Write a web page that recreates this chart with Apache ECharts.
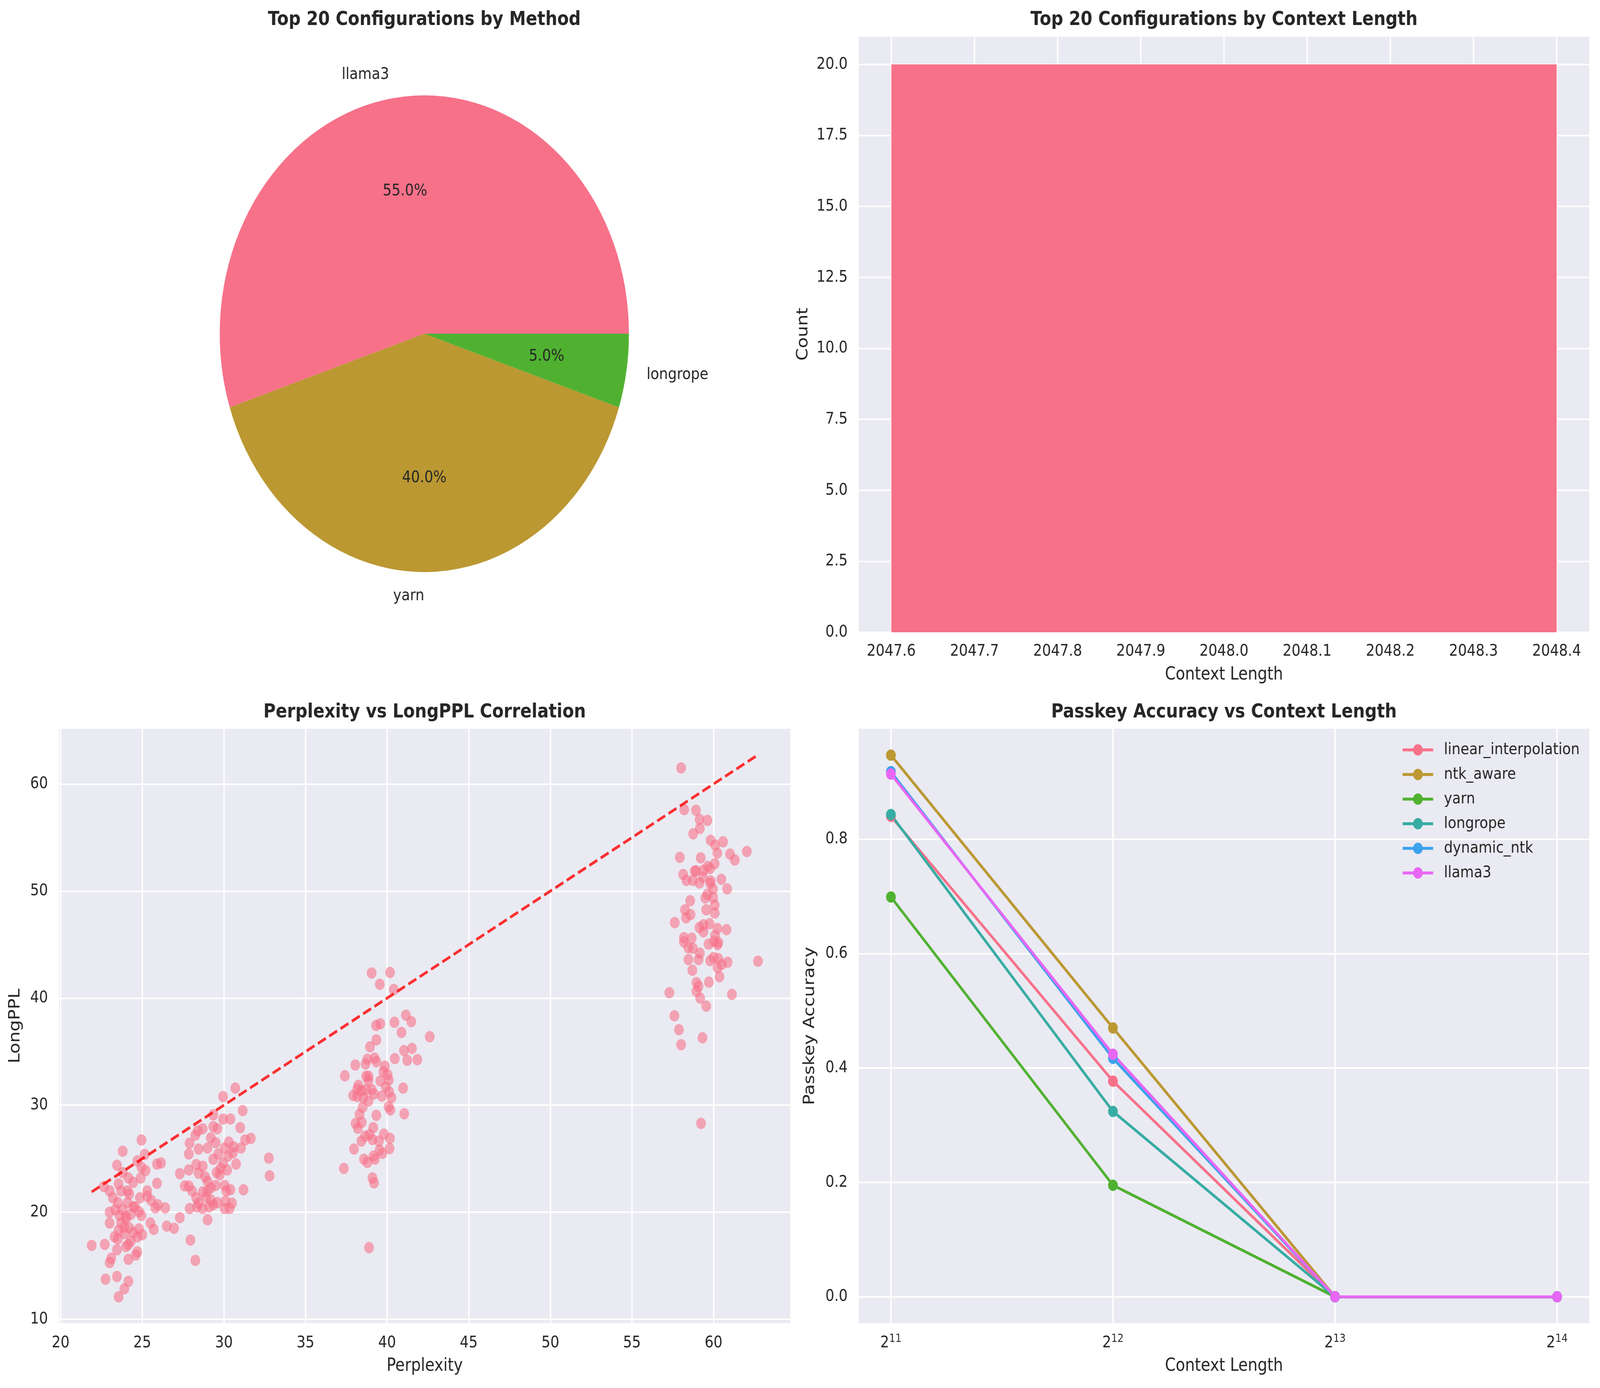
<!DOCTYPE html>
<html><head><meta charset="utf-8">
<script src="https://cdn.jsdelivr.net/npm/echarts@6/dist/echarts.min.js"></script>
<style>html,body{margin:0;padding:0;background:#fff;overflow:hidden}#wrap{position:relative;overflow:hidden}#c{width:4770px;height:3552px;position:absolute;left:0;top:0}</style>
</head><body><div id="wrap"><div id="c"></div></div>
<script>
// ---------------- data ----------------
const methodNames = ['llama3', 'yarn', 'longrope'];
const methodCounts = [11, 8, 1];

const contextBins = [2048];
const contextCounts = [20];

const perplexity = [
 21.9,22.7,22.75,22.65,23.0,23.2,23.0,23.0,23.1,23.0,23.45,23.55,23.9,24.15,24.15,23.45,23.5,23.55,23.45,23.8,
 23.55,23.8,24.15,24.45,23.7,24.1,23.5,23.35,23.8,24.1,24.45,24.0,23.7,24.2,23.9,24.45,24.8,24.15,24.7,24.6,
 24.7,24.95,24.7,25.15,24.95,25.2,24.9,24.85,25.3,25.3,25.55,24.95,25.0,25.5,25.7,25.9,25.9,26.15,25.8,25.95,
 26.4,26.5,26.95,24.8,24.55,24.0,24.3,23.9,24.2,23.6,24.0,24.3,23.3,
 27.3,27.3,27.6,27.85,28.05,27.85,27.85,27.9,28.25,28.4,28.7,27.95,28.25,27.9,28.35,28.45,28.7,28.3,28.45,28.7,
 28.3,28.45,29.0,28.85,29.0,29.0,28.7,29.0,29.2,29.1,29.35,29.6,29.35,29.35,29.6,29.5,29.2,29.35,29.65,29.55,
 29.75,29.5,29.95,29.95,29.95,30.4,30.7,31.15,31.0,31.3,31.65,31.05,30.6,30.3,30.05,30.55,30.25,30.75,30.2,30.05,
 30.4,30.15,31.2,30.1,30.5,30.05,30.35,32.75,32.8,29.2,28.9,29.8,
 39.05,40.18,39.55,40.41,41.15,41.48,40.45,39.58,39.32,40.88,42.61,39.34,38.95,41.03,41.52,40.47,41.23,41.85,38.05,37.41,
 38.79,38.68,39.23,39.34,39.86,39.77,40.03,40.1,38.86,38.71,38.86,39.58,39.92,40.98,38.24,38.17,37.92,38.17,38.45,38.72,
 39.06,39.2,39.68,40.12,40.27,38.55,38.86,38.5,40.09,40.2,41.05,39.34,38.31,38.07,38.45,38.21,39.15,38.65,38.92,39.8,
 40.17,38.42,39.1,39.5,37.97,39.54,40.15,39.71,38.58,38.79,39.16,39.25,37.35,39.1,39.2,38.89,
 58.01,58.2,58.92,59.14,59.62,59.16,58.75,59.82,60.1,60.58,60.23,57.93,59.21,61.01,61.3,62.04,60.07,59.64,59.79,59.38,
 58.84,58.92,58.14,58.34,58.73,59.14,59.35,59.83,59.79,60.48,59.97,60.83,59.62,59.49,59.97,58.57,60.07,58.25,58.59,58.31,
 59.55,60.07,57.62,59.76,59.38,59.13,59.38,60.23,60.79,60.09,58.18,58.66,58.18,58.73,58.45,59.69,60.03,60.29,60.24,59.16,
 58.46,59.08,59.79,60.0,60.29,60.86,60.5,60.24,62.72,58.7,60.36,58.95,59.08,58.95,59.71,57.29,61.12,59.18,59.55,57.6,
 57.88,59.32,58.01,59.23
];
const longPPL = [
 16.9,17.0,13.75,22.4,22.0,21.35,20.0,19.0,15.7,15.3,14.0,12.1,12.85,13.55,15.6,16.5,17.5,18.3,24.4,25.7,
 22.65,23.7,23.2,22.8,22.0,22.0,20.9,20.25,20.25,20.9,20.5,19.4,19.0,18.55,18.0,18.1,18.45,17.0,17.7,16.0,
 16.3,26.75,24.8,25.4,24.2,23.9,23.2,21.35,22.0,21.5,21.1,19.7,17.9,19.0,18.4,22.7,24.5,24.6,20.4,20.7,
 20.4,18.7,18.5,20.05,20.5,19.6,19.8,18.6,21.7,19.7,16.8,17.3,17.7,
 19.5,23.6,22.45,22.45,22.0,23.95,25.45,26.45,27.2,27.6,27.8,17.4,15.5,20.35,20.5,20.85,20.35,21.35,23.65,24.3,
 24.45,25.9,26.0,23.3,22.9,22.0,21.9,19.3,21.15,20.5,20.7,20.9,29.1,28.0,27.8,26.5,26.95,24.95,25.45,23.7,
 23.5,22.5,24.6,30.8,28.7,28.7,31.6,29.5,27.9,26.75,26.9,26.0,26.1,26.55,26.0,25.55,25.25,24.5,23.95,22.5,
 22.1,22.0,22.1,21.05,20.85,20.35,20.35,25.05,23.4,22.3,21.4,24.1,
 42.35,42.4,41.3,40.8,38.4,37.8,37.75,37.6,37.45,36.8,36.4,36.1,35.45,35.1,35.3,34.35,34.2,34.25,33.75,32.75,
 34.3,33.85,34.4,34.05,33.65,33.15,32.85,32.35,32.7,32.7,32.3,32.25,31.7,31.6,31.85,31.5,30.9,30.8,31.35,31.45,
 31.45,31.05,30.85,31.25,30.7,30.7,30.4,29.8,29.85,29.55,29.2,29.05,29.15,28.3,28.4,27.85,27.9,27.1,27.25,27.3,
 26.9,26.65,26.8,26.65,25.9,25.8,25.95,25.5,24.95,24.65,25.25,24.95,24.1,23.2,22.75,16.7,
 61.5,57.6,57.55,56.7,56.6,55.85,55.35,54.75,54.3,54.6,53.55,53.15,53.1,53.45,52.9,53.7,52.55,52.3,52.1,51.95,
 51.85,51.9,51.55,51.0,51.0,50.75,51.3,50.95,50.7,51.1,50.2,50.2,49.7,49.35,49.4,49.1,48.7,48.25,47.8,47.5,
 48.25,47.95,47.05,46.95,46.85,46.6,46.2,46.5,46.4,45.85,45.65,45.6,45.25,44.65,44.7,45.05,45.3,45.2,45.0,44.2,
 43.6,43.6,43.5,43.8,43.7,43.35,43.15,42.85,43.45,42.6,42.0,41.45,41.1,40.65,41.5,40.5,40.35,40.0,39.25,38.35,
 37.05,36.3,35.65,28.3
];

const passkeyContext = [2048, 4096, 8192, 16384];
const passkeyMethods = ['linear_interpolation', 'ntk_aware', 'yarn', 'longrope', 'dynamic_ntk', 'llama3'];
const accLinearInterpolation = [0.840, 0.377, 0.0, 0.0];
const accNtkAware = [0.947, 0.470, 0.0, 0.0];
const accYarn = [0.699, 0.195, 0.0, 0.0];
const accLongrope = [0.843, 0.324, 0.0, 0.0];
const accDynamicNtk = [0.918, 0.417, 0.0, 0.0];
const accLlama3 = [0.914, 0.424, 0.0, 0.0];

// ---------------- styles ----------------
const palette = ['#f77189', '#bb9832', '#50b131', '#36ada4', '#3ba3ec', '#e866f4'];
const FONT = 'DejaVu Sans';
const TXT = '#262626';
const BG = '#EAEAF2';
const TICK_FS = 41.7, LABEL_FS = 45.8, TITLE_FS = 50;
const GRID_W = 4.2;
const LINE_W = 7.3;
const BAR_SPAN = 0.8;

const grids = [
  {left: 2558, top: 92, width: 2182, height: 1526},
  {left: 174, top: 1863, width: 2184, height: 1525},
  {left: 2558, top: 1863, width: 2182, height: 1525}
];
const barX = [2047.56, 2048.44];

function onStep(v, step) { return Math.abs(v / step - Math.round(v / step)) < 1e-6; }

function baseAxis(extra) {
  return Object.assign({
    axisLine: {show: false},
    axisTick: {show: false},
    splitLine: {show: true, lineStyle: {color: '#ffffff', width: GRID_W}},
    nameLocation: 'middle',
    nameTextStyle: {fontFamily: FONT, fontSize: LABEL_FS, color: TXT},
  }, extra);
}
function lab(margin, fmt, rich) {
  const o = {fontFamily: FONT, fontSize: TICK_FS, color: TXT, margin: margin, formatter: fmt, showMinLabel: true, showMaxLabel: true};
  if (rich) o.rich = rich;
  return o;
}

const titles = [
  ['Top 20 Configurations by Method', 1265, 26],
  ['Top 20 Configurations by Context Length', 3649, 26],
  ['Perplexity vs LongPPL Correlation', 1266, 1798],
  ['Passkey Accuracy vs Context Length', 3649, 1798]
].map(t => ({text: t[0], left: t[1], top: t[2], textAlign: 'center', padding: 0,
  textStyle: {fontFamily: FONT, fontSize: TITLE_FS, fontWeight: 'bold', color: TXT}}));

const pmin = Math.min(...perplexity), pmax = Math.max(...perplexity);
const accSeries = [accLinearInterpolation, accNtkAware, accYarn, accLongrope, accDynamicNtk, accLlama3];

const option = {
  backgroundColor: '#ffffff',
  animation: false,
  title: titles,
  grid: grids.map(g => Object.assign({show: true, backgroundColor: BG, borderWidth: 0, containLabel: false}, g)),
  legend: {
    data: passkeyMethods, orient: 'vertical', left: 4178, top: 1898, padding: 0,
    itemWidth: 91, itemHeight: 36, itemGap: 21,
    lineStyle: {width: LINE_W},
    formatter: n => '{t|' + n + '}',
    textStyle: {fontFamily: FONT, fontSize: TICK_FS, color: TXT, lineHeight: 42,
      rich: {t: {fontFamily: FONT, fontSize: TICK_FS, color: TXT, lineHeight: 42, padding: [0, 0, 0, 27]}}}
  },
  xAxis: [
    baseAxis({type: 'value', gridIndex: 0, min: barX[0], max: barX[1], splitNumber: 9,
      name: 'Context Length', nameGap: 86,
      axisLabel: lab(28, v => onStep(v, 0.1) ? v.toFixed(1) : '')}),
    baseAxis({type: 'value', gridIndex: 1, min: 19.86, max: 64.74, splitNumber: 9,
      name: 'Perplexity', nameGap: 85,
      axisLabel: lab(28, v => onStep(v, 5) ? String(Math.round(v)) : '')}),
    baseAxis({type: 'log', logBase: 2, gridIndex: 2, min: Math.pow(2, 10.852), max: Math.pow(2, 14.148),
      name: 'Context Length', nameGap: 85,
      axisLabel: lab(24, v => { const e = Math.log2(v); return Math.abs(e - Math.round(e)) < 1e-4 ? '{b|2}{s|' + Math.round(e) + '}' : ''; },
        {b: {fontFamily: FONT, fontSize: TICK_FS, color: TXT, lineHeight: 46, verticalAlign: 'bottom'},
         s: {fontFamily: FONT, fontSize: 29, color: TXT, lineHeight: 46, verticalAlign: 'top'}})})
  ],
  yAxis: [
    baseAxis({type: 'value', gridIndex: 0, min: 0, max: 21, interval: 2.5,
      name: 'Count', nameGap: 140,
      axisLabel: lab(31, v => (onStep(v, 2.5) && v <= 20) ? v.toFixed(1) : '')}),
    baseAxis({type: 'value', gridIndex: 1, min: 9.57, max: 65.23, splitNumber: 5,
      name: 'LongPPL', nameGap: 105,
      axisLabel: lab(31, v => onStep(v, 10) ? String(Math.round(v)) : '')}),
    baseAxis({type: 'value', gridIndex: 2, min: -0.0474, max: 0.9944, splitNumber: 5,
      name: 'Passkey Accuracy', nameGap: 120,
      axisLabel: lab(31, v => onStep(v, 0.2) ? v.toFixed(1) : '')})
  ],
  series: [
    {
      type: 'pie', name: 'method', center: [1265, 854], radius: [0, 610],
      startAngle: 0, clockwise: false, avoidLabelOverlap: false, silent: true,
      data: methodNames.map((n, i) => ({name: n, value: methodCounts[i], itemStyle: {color: palette[i]}})),
      label: {show: true, position: 'outside', formatter: '{b}', fontFamily: FONT, fontSize: TICK_FS, color: TXT, distanceToLabelLine: 0},
      labelLine: {show: false, length: 61, length2: 0},
      emphasis: {disabled: true}
    },
    {
      type: 'pie', name: 'methodPct', center: [1265, 854], radius: [122, 610], z: 3,
      startAngle: 0, clockwise: false, avoidLabelOverlap: false, silent: true,
      data: methodNames.map((n, i) => ({name: n, value: methodCounts[i]})),
      itemStyle: {color: 'rgba(0,0,0,0)'},
      label: {show: true, position: 'inside', formatter: p => p.percent.toFixed(1) + '%', fontFamily: FONT, fontSize: TICK_FS, color: TXT},
      labelLine: {show: false},
      emphasis: {disabled: true}
    },
    {
      type: 'bar', name: 'count', xAxisIndex: 0, yAxisIndex: 0,
      data: contextBins.map((c, i) => [c, contextCounts[i]]),
      barWidth: grids[0].width * BAR_SPAN / (barX[1] - barX[0]),
      itemStyle: {color: palette[0]}
    },
    {
      type: 'scatter', name: 'ppl', xAxisIndex: 1, yAxisIndex: 1,
      data: perplexity.map((x, i) => [x, longPPL[i]]),
      symbolSize: 29, itemStyle: {color: palette[0], opacity: 0.6}
    },
    {
      type: 'line', name: 'diag', xAxisIndex: 1, yAxisIndex: 1,
      data: [[pmin, pmin], [pmax, pmax]], symbol: 'none',
      lineStyle: {color: '#ff0000', opacity: 0.8, width: LINE_W, type: [27, 11.7], cap: 'butt'}
    }
  ].concat(passkeyMethods.map((m, k) => ({
    type: 'line', name: m, xAxisIndex: 2, yAxisIndex: 2,
    data: passkeyContext.map((c, i) => [c, accSeries[k][i]]),
    symbol: 'circle', symbolSize: 29, showSymbol: true,
    lineStyle: {color: palette[k], width: LINE_W},
    itemStyle: {color: palette[k], borderWidth: 0}
  })))
};

// The drawing is laid out on a 4770x3552 board; fit it to the viewport the browser actually provides
// (the window can be narrower than requested), so the whole chart is always in the picture.
const wrap = document.getElementById('wrap');
const el = document.getElementById('c');
const vw = window.innerWidth || document.documentElement.clientWidth || 4770;
const vh = window.innerHeight || document.documentElement.clientHeight || 3552;
const SX = vw / 4770, SY = vh / 3552;
const dpr = window.devicePixelRatio || 1;
wrap.style.width = vw + 'px';
wrap.style.height = vh + 'px';
el.style.transformOrigin = '0 0';
el.style.transform = 'scale(' + SX + ',' + SY + ')';
const chart = echarts.init(el, null, {width: 4770, height: 3552, renderer: 'canvas', devicePixelRatio: dpr * Math.max(SX, SY, 1)});
chart.setOption(option);
</script>
</body></html>
